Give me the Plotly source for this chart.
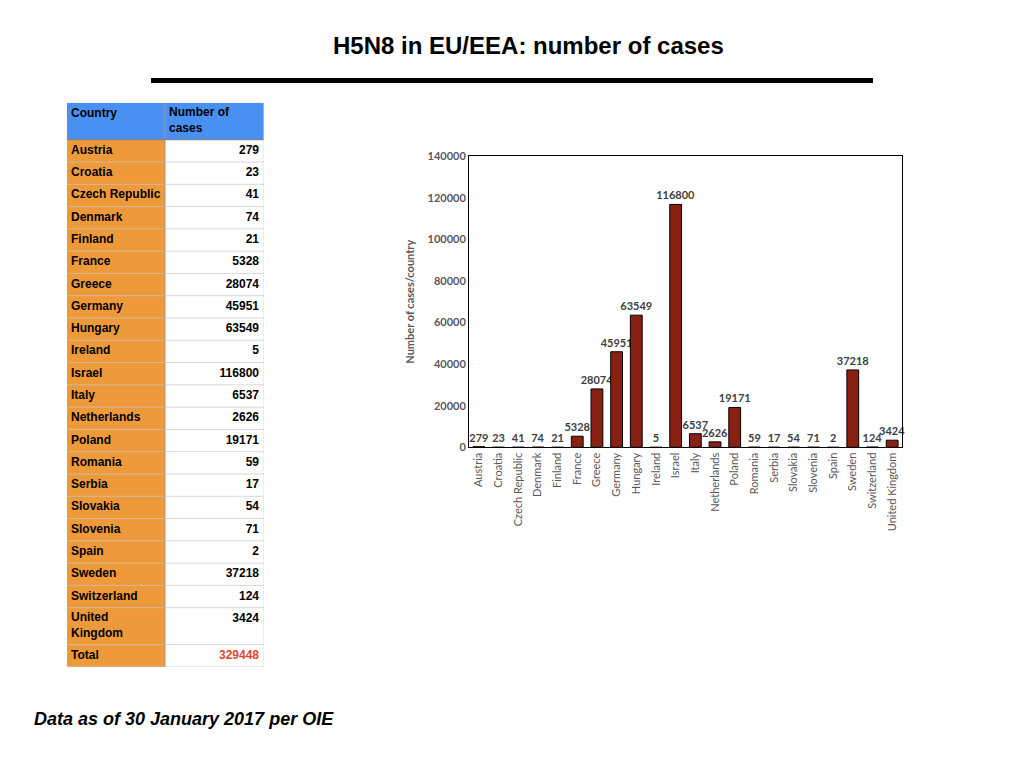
import plotly.graph_objects as go

# H5N8 cases per country, 30 Jan 2017 (OIE)
countries = ["Austria", "Croatia", "Czech Republic", "Denmark", "Finland", "France",
             "Greece", "Germany", "Hungary", "Ireland", "Israel", "Italy",
             "Netherlands", "Poland", "Romania", "Serbia", "Slovakia", "Slovenia",
             "Spain", "Sweden", "Switzerland", "United Kingdom"]
cases = [279, 23, 41, 74, 21, 5328, 28074, 45951, 63549, 5, 116800, 6537,
         2626, 19171, 59, 17, 54, 71, 2, 37218, 124, 3424]
total = 329448
header = ["Country", "Number of<br>cases"]

W, H = 1024, 768
K = 1 / 0.986  # small vertical correction seen in the rendered page
def px(x): return x / W
def py(y): return 1 - (H / 2 + (y - H / 2) * K) / H

ORANGE = "#ef9a3a"
BLUE = "#4a90f2"
BAR = "#8a2014"
GREY = "#595959"
FONT = "Liberation Sans"

# ---- table geometry (pixel units on a hidden axis pair) ----
T_LEFT, T_MID, T_RIGHT, T_TOP = 67, 165, 264, 101.5
row_labels = [c.replace("United Kingdom", "United<br>Kingdom") for c in countries] + ["Total"]
row_values = [str(v) for v in cases] + [str(total)]
row_h = [37 if "<br>" in lab else 22.35 for lab in row_labels]
row_h[-1] = 22.4
HEAD_H = 37

tops = []
y = T_TOP + HEAD_H
for h in row_h:
    tops.append(y)
    y += h
T_BOTTOM = y

shapes = [
    # header
    dict(type="rect", xref="x2", yref="y2", x0=T_LEFT, x1=T_RIGHT, y0=T_TOP, y1=T_TOP + HEAD_H,
         fillcolor=BLUE, line=dict(width=0), layer="below"),
    # first column
    dict(type="rect", xref="x2", yref="y2", x0=T_LEFT, x1=T_MID, y0=T_TOP + HEAD_H, y1=T_BOTTOM,
         fillcolor=ORANGE, line=dict(width=0), layer="below"),
]
for t in tops[1:] + [T_BOTTOM]:
    shapes.append(dict(type="line", xref="x2", yref="y2", x0=T_LEFT, x1=T_RIGHT, y0=t, y1=t,
                       line=dict(color="rgba(200,200,200,0.7)", width=1)))
shapes += [
    dict(type="line", xref="x2", yref="y2", x0=T_MID, x1=T_MID, y0=T_TOP, y1=T_BOTTOM,
         line=dict(color="#9a9a9a", width=1)),
    dict(type="line", xref="x2", yref="y2", x0=T_LEFT, x1=T_RIGHT, y0=T_TOP + HEAD_H, y1=T_TOP + HEAD_H,
         line=dict(color="#7a7a7a", width=1)),
    dict(type="line", xref="x2", yref="y2", x0=T_RIGHT, x1=T_RIGHT, y0=T_TOP, y1=T_BOTTOM,
         line=dict(color="#d9d9d9", width=1)),
    # title rule
    dict(type="line", xref="paper", yref="paper", x0=px(151), x1=px(873), y0=py(79), y1=py(79),
         line=dict(color="black", width=5)),
]

lab_y = [t + h / 2 if "<br>" in lab else t + 11.2 for t, h, lab in zip(tops, row_h, row_labels)]
val_y = [t + 11.2 for t in tops]
val_colors = ["black"] * len(cases) + ["#e8432e"]

fig = go.Figure()

fig.add_trace(go.Scatter(
    x=[T_LEFT + 4] * len(row_labels), y=lab_y, text=["<b>%s</b>" % s for s in row_labels],
    mode="text", textposition="middle right", xaxis="x2", yaxis="y2",
    textfont=dict(family=FONT, size=12, color="black"), hoverinfo="skip"))
fig.add_trace(go.Scatter(
    x=[T_RIGHT - 5] * len(row_values), y=val_y, text=["<b>%s</b>" % s for s in row_values],
    mode="text", textposition="middle left", xaxis="x2", yaxis="y2",
    textfont=dict(family=FONT, size=12, color=val_colors), hoverinfo="skip"))
fig.add_trace(go.Scatter(
    x=[T_LEFT + 4, T_MID + 4], y=[T_TOP + 11.5, T_TOP + 18.5], text=["<b>%s</b>" % s for s in header],
    mode="text", textposition="middle right", xaxis="x2", yaxis="y2",
    textfont=dict(family=FONT, size=12, color="black"), hoverinfo="skip"))

# ---- bar chart ----
fig.add_trace(go.Bar(
    x=countries, y=cases,
    marker=dict(color=BAR, line=dict(color="black", width=1)),
    text=[str(v) for v in cases],
    textposition="outside",
    textfont=dict(family="Lato", size=11, color="#404040", weight="bold"),
    constraintext="none",
    cliponaxis=False,
    width=0.6,
    hoverinfo="x+y",
))

fig.update_layout(
    autosize=True,
    margin=dict(l=0, r=0, t=0, b=0),
    paper_bgcolor="white", plot_bgcolor="rgba(0,0,0,0)",
    showlegend=False,
    xaxis=dict(domain=[px(469), px(902)], anchor="y",
               showline=True, mirror=True, linecolor="black", linewidth=1,
               tickangle=-90, ticks="", showgrid=False,
               tickfont=dict(family="Lato", size=11, color=GREY)),
    yaxis=dict(domain=[py(447), py(155)], anchor="x",
               range=[0, 140000], dtick=20000, tickformat="d",
               showline=True, mirror=True, linecolor="black", linewidth=1,
               ticks="", showgrid=False, zeroline=False,
               tickfont=dict(family="Lato", size=11, color=GREY, weight="bold"),
               title=dict(text="Number of cases/country", standoff=10,
                          font=dict(family="Lato", size=11, color=GREY, weight="bold"))),
    xaxis2=dict(domain=[px(T_LEFT), px(T_RIGHT)], range=[T_LEFT, T_RIGHT], anchor="y2",
                visible=False, fixedrange=True),
    yaxis2=dict(domain=[py(T_BOTTOM), py(T_TOP)], range=[T_BOTTOM, T_TOP], anchor="x2",
                visible=False, fixedrange=True),
    shapes=shapes,
    annotations=[
        dict(text="<b>H5N8 in EU/EEA: number of cases</b>", xref="paper", yref="paper",
             x=px(528), y=py(44), xanchor="center", yanchor="middle", showarrow=False,
             font=dict(family=FONT, size=24, color="black")),
        dict(text="<b><i>Data as of 30 January 2017 per OIE</i></b>", xref="paper", yref="paper",
             x=px(32), y=py(719), xanchor="left", yanchor="middle", showarrow=False,
             font=dict(family=FONT, size=18, color="black")),
    ],
)

# pin the figure to the window so the page is exactly one screen
fit_js = """
var gd = document.getElementById('{plot_id}');
document.documentElement.style.overflow = 'hidden';
document.body.style.margin = '0';
document.body.style.overflow = 'hidden';
gd.style.position = 'fixed';
gd.style.top = '0';
gd.style.left = '0';
gd.style.width = '100vw';
gd.style.height = '100vh';
Plotly.Plots.resize(gd);
"""
fig.write_html("out.html", config={"displayModeBar": False}, post_script=fit_js,
               default_width="100%", default_height="100%")
